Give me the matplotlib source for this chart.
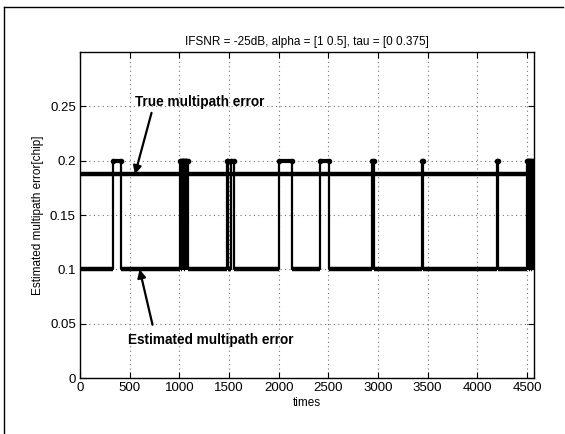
import numpy as np
import matplotlib.pyplot as plt
from matplotlib.lines import Line2D

# ---------------------------------------------------------------------------
# Datos
# ---------------------------------------------------------------------------
t_end = 4570
true_error = 0.1875          # tau/2 = 0.375/2
base_level = 0.1
jump_level = 0.2

# intervalos (inicio, fin) en los que la estimación salta a 0.2
jump_start = [335, 1008, 1024, 1040, 1056, 1072, 1478, 1522, 2008, 2415, 2936,
              3442, 4202, 4498, 4514, 4530, 4546]
jump_end = [408, 1016, 1032, 1048, 1064, 1086, 1490, 1546, 2130, 2502, 2960,
            3452, 4212, 4506, 4522, 4538, 4566]

xticks = [0, 500, 1000, 1500, 2000, 2500, 3000, 3500, 4000, 4500]
yticks = [0, 0.05, 0.1, 0.15, 0.2, 0.25]
ytick_labels = ["0", "0.05", "0.1", "0.15", "0.2", "0.25"]

# ---------------------------------------------------------------------------
# Construir la señal escalón
# ---------------------------------------------------------------------------
t_est = [0]
y_est = [base_level]
for s, e in zip(jump_start, jump_end):
    t_est += [s, s, e, e]
    y_est += [base_level, jump_level, jump_level, base_level]
t_est.append(t_end)
y_est.append(base_level)

low_x0 = [0] + jump_end
low_x1 = jump_start + [t_end]

plt.rcParams["font.family"] = ["Liberation Sans", "DejaVu Sans"]

fig = plt.figure(figsize=(5.65, 4.34), dpi=100)
ax = fig.add_axes([0.1416, 0.1290, 0.8035, 0.7512])

ax.plot(t_est, y_est, color="black", lw=1.6)
ax.hlines([base_level] * len(low_x0), low_x0, low_x1, color="black", lw=3.2)
ax.hlines([jump_level] * len(jump_start), jump_start, jump_end,
          color="black", lw=3.0)
ax.plot(jump_start + jump_end, [jump_level] * (2 * len(jump_start)), ".",
        color="black", ms=6)
ax.hlines(true_error, 0, t_end, color="black", lw=3.2)

ax.set_xlim(0, t_end)
ax.set_ylim(0, 0.3)
ax.set_xticks(xticks)
ax.set_yticks(yticks)
ax.set_yticklabels(ytick_labels)
ax.tick_params(direction="in", top=True, right=True, labelsize=9.5,
               length=4, width=0.8, pad=3)
ax.grid(True, linestyle=(0, (1, 3)), color="0.45", lw=0.8)
for sp in ax.spines.values():
    sp.set_linewidth(1.0)

ax.set_title("IFSNR = -25dB, alpha = [1 0.5], tau = [0 0.375]",
             fontsize=8.5, pad=5)
ax.set_xlabel("times", fontsize=8.5, labelpad=2)
ax.set_ylabel("Estimated multipath error[chip]", fontsize=8.5, labelpad=4)

arrow = dict(arrowstyle="-|>", color="black", lw=1.6,
             mutation_scale=12, shrinkA=0, shrinkB=0)
ax.text(550, 0.254, "True multipath error", fontsize=9.8,
        fontweight="bold", ha="left", va="center")
ax.annotate("", xy=(553, true_error), xytext=(720, 0.244), arrowprops=arrow)
ax.text(480, 0.035, "Estimated multipath error", fontsize=9.8,
        fontweight="bold", ha="left", va="center")
ax.annotate("", xy=(600, base_level), xytext=(730, 0.049), arrowprops=arrow)

# marco exterior (escaneo)
fig.add_artist(Line2D([0.007, 0.997], [0.984, 0.984], color="black", lw=1.0,
                      transform=fig.transFigure))
fig.add_artist(Line2D([0.007, 0.007], [0.0, 0.984], color="black", lw=1.0,
                      transform=fig.transFigure))

fig.savefig("out.png", dpi=100)
